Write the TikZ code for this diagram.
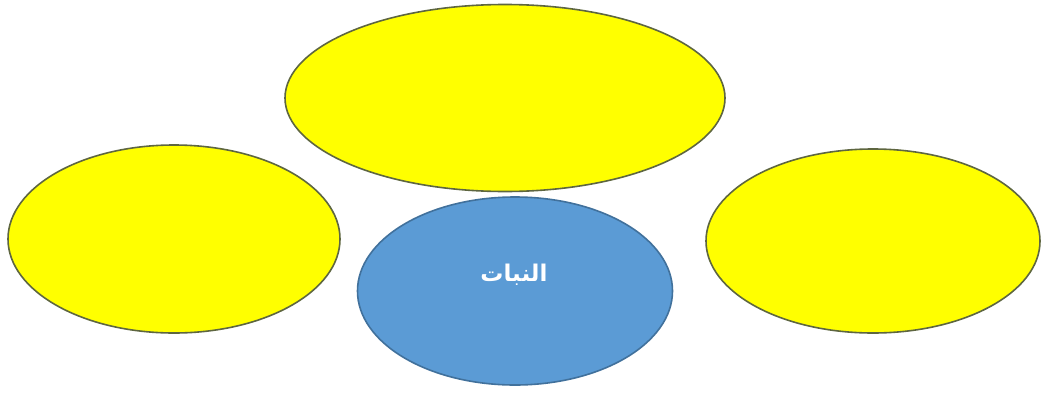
\documentclass[tikz,border=0pt]{standalone}
\usepackage{fontspec}
\usetikzlibrary{shapes.geometric}
\TeXXeTstate=1
\newfontfamily\arabicfont[Script=Arabic]{DejaVu Sans}
\begin{document}
\begin{tikzpicture}[x=1pt,y=-1pt,
  yell/.style={ellipse,draw=olivedge,fill=yellowfill,line width=1.6pt,inner sep=0pt},
  bluell/.style={ellipse,draw=blueedge,fill=bluefill,line width=1.6pt,inner sep=0pt,text=white}]
\definecolor{olivedge}{HTML}{5E6640}
\definecolor{yellowfill}{HTML}{FFFF00}
\definecolor{blueedge}{HTML}{41719C}
\definecolor{bluefill}{HTML}{5B9BD5}
\useasboundingbox (0,0) rectangle (1046,394);
\fill[white] (0,0) rectangle (1046,394);
\node[yell,minimum width=440pt,minimum height=187pt] (top) at (505,98) {};
\node[yell,minimum width=332pt,minimum height=188pt] (left) at (174,239) {};
\node[yell,minimum width=334pt,minimum height=184pt] (right) at (873,241) {};
\node[bluell,minimum width=315pt,minimum height=188pt] (center) at (515,291) {};
\node[text=white,font=\arabicfont\bfseries\fontsize{23}{26}\selectfont] (label) at (514,275) {\beginR النبات\endR};
\end{tikzpicture}
\end{document}
